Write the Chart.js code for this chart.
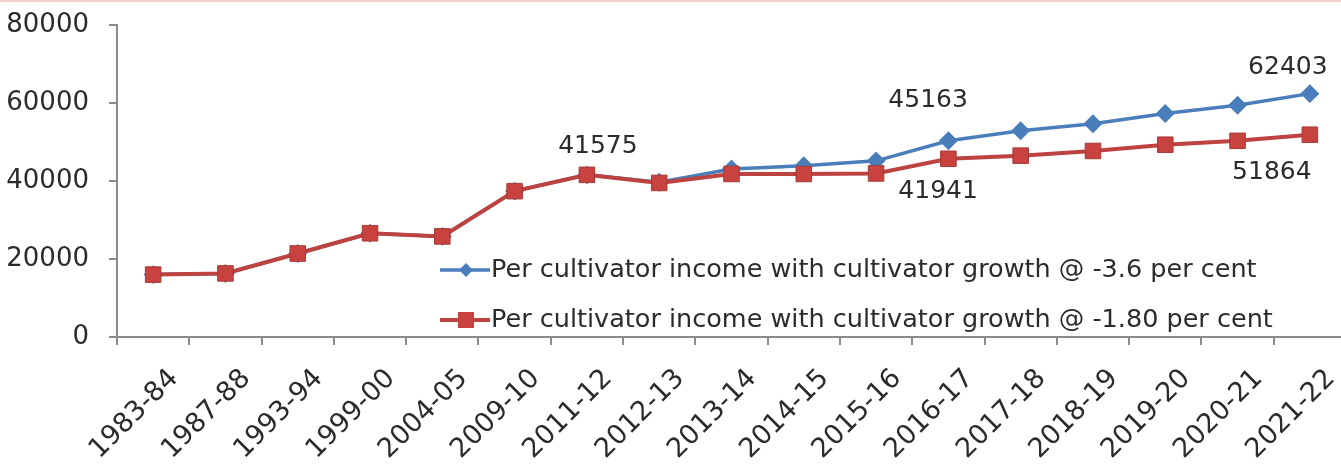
<!DOCTYPE html>
<html>
<head>
<meta charset="utf-8">
<script src="https://cdn.jsdelivr.net/npm/chart.js@4/dist/chart.umd.min.js"></script>
<style>
  html, body { margin: 0; padding: 0; background: #fff; overflow: hidden; }
  body { border-top: 2px solid #f3cfcc; }
  #wrap { width: 1358px; height: 466px; }
</style>
</head>
<body>
<div id="wrap"><canvas id="c"></canvas></div>
<script>
const years = ['1983-84','1987-88','1993-94','1999-00','2004-05','2009-10','2011-12','2012-13','2013-14',
  '2014-15','2015-16','2016-17','2017-18','2018-19','2019-20','2020-21','2021-22']
const growth36 = [16000,16300,21400,26600,25800,37400,41575,39700,43100,43900,45163,50300,52900,54700,57300,59400,62403]
const growth18 = [16000,16300,21400,26600,25800,37400,41575,39500,41800,41800,41941,45700,46500,47700,49300,50300,51864]
const yTicks = [0, 20000, 40000, 60000, 80000]
const seriesNames = ['Per cultivator income with cultivator growth @ -3.6 per cent',
  'Per cultivator income with cultivator growth @ -1.80 per cent']
// which points carry a value label: [dataset, index]
const labelled = [[1, 6], [0, 10], [1, 10], [0, 16], [1, 16]]

const FONT = 'DejaVu Sans'
const blue = '#4a7ebb', red = '#bd4340'
const labelShift = { '1,6': [11, -28], '0,10': [52, -60], '1,10': [62, 18], '0,16': [-22, -26], '1,16': [-38, 38] }

const extras = {
  id: 'extras',
  afterDatasetsDraw(chart) {
    const ctx = chart.ctx
    ctx.save()
    ctx.fillStyle = '#2b2b2b'
    ctx.font = '25px "' + FONT + '"'
    ctx.textAlign = 'center'
    ctx.textBaseline = 'middle'
    labelled.forEach(([d, i]) => {
      const pt = chart.getDatasetMeta(d).data[i]
      const s = labelShift[d + ',' + i]
      ctx.fillText(String(chart.data.datasets[d].data[i]), pt.x + s[0], pt.y + s[1])
    })
    // legend inside plot
    const rows = [268, 318]
    chart.data.datasets.forEach((ds, k) => {
      const y = rows[k]
      ctx.strokeStyle = ds.borderColor
      ctx.lineWidth = ds.borderWidth
      ctx.beginPath(); ctx.moveTo(440, y); ctx.lineTo(490, y); ctx.stroke()
      ctx.fillStyle = ds.pointBackgroundColor
      ctx.beginPath()
      if (k === 0) {
        ctx.moveTo(466, y - 7); ctx.lineTo(473, y); ctx.lineTo(466, y + 7); ctx.lineTo(459, y)
      } else {
        ctx.rect(458, y - 8, 16, 16)
      }
      ctx.fill()
      ctx.fillStyle = '#2b2b2b'
      ctx.font = '25.5px "' + FONT + '"'
      ctx.textAlign = 'left'
      ctx.fillText(ds.label, 491, y)
    })
    ctx.restore()
  }
}

new Chart(document.getElementById('c'), {
  type: 'line',
  data: {
    labels: years,
    datasets: [{
      label: seriesNames[0],
      data: growth36,
      borderColor: blue,
      borderWidth: 3.5,
      pointStyle: 'rectRot',
      pointRadius: 7,
      pointBackgroundColor: blue,
      pointBorderColor: blue,
      order: 2
    }, {
      label: seriesNames[1],
      data: growth18,
      borderColor: red,
      borderWidth: 4,
      pointStyle: 'rect',
      pointRadius: 11,
      pointBackgroundColor: '#c8423f',
      pointBorderColor: '#a83a37',
      pointBorderWidth: 1,
      order: 1
    }]
  },
  options: {
    responsive: true,
    maintainAspectRatio: false,
    animation: false,
    layout: { padding: { top: 23, right: 0, left: 0, bottom: 0 } },
    plugins: { legend: { display: false }, tooltip: { enabled: false } },
    scales: {
      x: {
        offset: true,
        grid: { offset: true, drawOnChartArea: false, tickLength: 8, color: '#8a8a8a', lineWidth: 2 },
        border: { color: '#8a8a8a', width: 2 },
        ticks: { color: '#2b2b2b', font: { family: FONT, size: 27 }, maxRotation: 45, minRotation: 45, padding: 18, labelOffset: 21, autoSkip: false },
        afterFit(s) { s.height = 131 }
      },
      y: {
        min: 0, max: 80000,
        afterBuildTicks(s) { s.ticks = yTicks.map(v => ({ value: v })) },
        grid: { drawOnChartArea: false, tickLength: 8, color: '#8a8a8a', lineWidth: 2 },
        border: { color: '#8a8a8a', width: 2 },
        ticks: { color: '#2b2b2b', font: { family: FONT, size: 26 }, padding: 20, callback: v => String(v) },
        afterFit(s) { s.width = 117; s.paddingTop = 0; s.paddingBottom = 0 }
      }
    }
  },
  plugins: [extras]
})
</script>
</body>
</html>
